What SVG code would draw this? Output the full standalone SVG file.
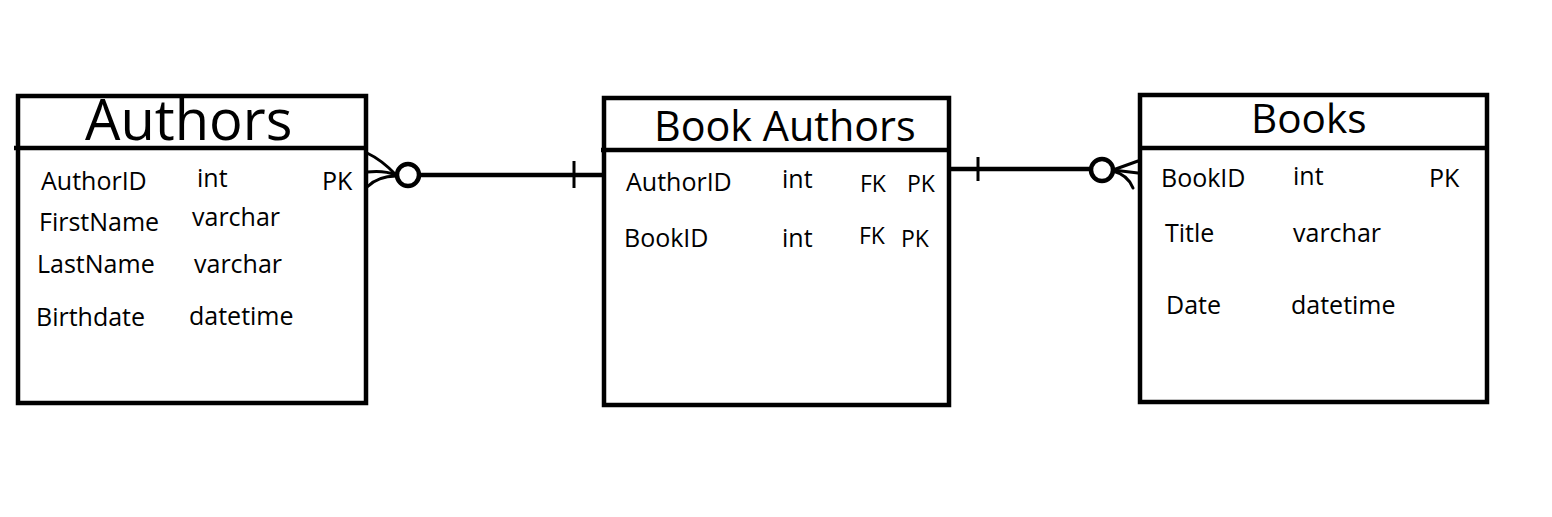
<svg xmlns="http://www.w3.org/2000/svg" width="1552" height="517" viewBox="0 0 1552 517">
<style>
.box{fill:none;stroke:#000;stroke-width:4.5}
.div{stroke:#000;stroke-width:4.5}
.t{font-family:"Open Sans","Noto Sans",sans-serif;fill:#000}
.f{font-size:25px}
.k{font-size:23px}
.ln{stroke:#000;stroke-width:4.5;fill:none}
.tk{stroke:#000;stroke-width:3;fill:none}
.cf{stroke:#000;stroke-width:3;fill:none;stroke-linecap:round}
</style>
<rect width="1552" height="517" fill="#fff"/>
<g id="authors">
<rect class="box" x="18" y="96" width="348" height="307"/>
<line class="div" x1="14" y1="148" x2="366" y2="148"/>
<text class="t" x="85" y="140" font-size="56">Authors</text>
<text class="t f" x="41" y="190">AuthorID</text>
<text class="t f" x="197" y="187">int</text>
<text class="t f" x="322" y="190">PK</text>
<text class="t f" x="39" y="231">FirstName</text>
<text class="t f" x="192" y="226">varchar</text>
<text class="t f" x="37" y="273">LastName</text>
<text class="t f" x="194" y="273">varchar</text>
<text class="t f" x="36" y="326">Birthdate</text>
<text class="t f" x="189" y="325">datetime</text>
</g>
<g id="book-authors">
<rect class="box" x="604" y="98" width="345" height="307"/>
<line class="div" x1="601" y1="150" x2="949" y2="150"/>
<text class="t" x="654" y="141" font-size="41.3">Book Authors</text>
<text class="t f" x="626" y="191">AuthorID</text>
<text class="t f" x="782" y="188">int</text>
<text class="t k" x="860" y="192">FK</text>
<text class="t k" x="907" y="192">PK</text>
<text class="t f" x="624" y="247">BookID</text>
<text class="t f" x="782" y="247">int</text>
<text class="t k" x="859" y="244">FK</text>
<text class="t k" x="901" y="247">PK</text>
</g>
<g id="books">
<rect class="box" x="1140" y="95" width="347" height="307"/>
<line class="div" x1="1138" y1="148" x2="1487" y2="148"/>
<text class="t" x="1251" y="133" font-size="40.5">Books</text>
<text class="t f" x="1161" y="187">BookID</text>
<text class="t f" x="1293" y="185">int</text>
<text class="t f" x="1429" y="187">PK</text>
<text class="t f" x="1165" y="242">Title</text>
<text class="t f" x="1293" y="242">varchar</text>
<text class="t f" x="1166" y="314">Date</text>
<text class="t f" x="1291" y="314">datetime</text>
</g>
<g id="connectors">
<line class="ln" x1="420" y1="175" x2="604" y2="175"/>
<line class="tk" x1="574" y1="161" x2="574" y2="188"/>
<circle class="ln" cx="408" cy="175" r="11" fill="#fff"/>
<path class="cf" d="M367,153 Q382,160 396,175"/>
<path class="cf" d="M367,172 Q384,170 396,175"/>
<path class="cf" d="M367,187 Q378,176 396,176"/>
<line class="ln" x1="949" y1="169" x2="1090" y2="169"/>
<line class="tk" x1="978" y1="157" x2="978" y2="181"/>
<circle class="ln" cx="1102" cy="170" r="11" fill="#fff"/>
<path class="cf" d="M1113,170 L1138,161"/>
<path class="cf" d="M1113,170 L1138,173"/>
<path class="cf" d="M1113,171 Q1128,175 1133,188"/>
</g>
</svg>
